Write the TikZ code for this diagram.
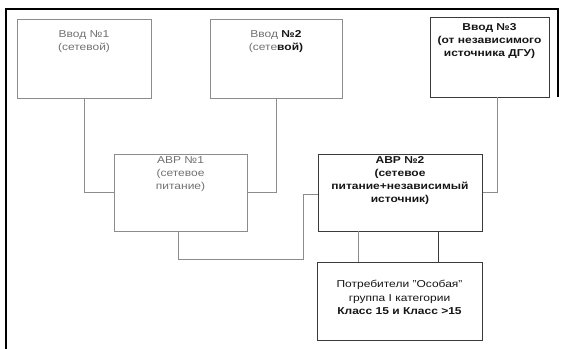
\documentclass[tikz,border=0pt]{standalone}
\usepackage{fontspec}
\setmainfont{Liberation Sans}[FakeStretch=1.2]
\usetikzlibrary{calc}
\definecolor{boxgray}{HTML}{8C8C8C}
\definecolor{boxdark}{HTML}{3A3A3A}
\definecolor{txtgray}{HTML}{707070}
\definecolor{txtdark}{HTML}{151515}
\begin{document}
\begin{tikzpicture}[x=1pt,y=-1pt,
  box/.style={draw=#1, line width=1pt, rectangle, inner sep=0pt},
  txt/.style={anchor=north, align=center, inner sep=0pt,
    font=\fontsize{10}{12.8}\selectfont, text=#1},
  wire/.style={draw=boxgray, line width=0.9pt},
  frame/.style={draw=black, line width=1.6pt}]
\useasboundingbox (0,0) rectangle (561,348);
% outer frame
\coordinate (fbl) at (6,349);
\coordinate (ftl) at (6,9);
\coordinate (ftr) at (558,9);
\coordinate (fbr) at (558,97);
\draw[frame] (fbl) -- (ftl) -- (ftr) -- (fbr);
% boxes
\node[box=boxgray, minimum width=134pt, minimum height=79pt] (b1) at (84,58.5) {};
\node[box=boxgray, minimum width=132pt, minimum height=79pt] (b2) at (276,58.5) {};
\node[box=boxdark, minimum width=119pt, minimum height=80pt] (b3) at (489.5,57) {};
\node[box=boxgray, minimum width=133pt, minimum height=77pt] (a1) at (180.5,192.5) {};
\node[box=boxdark, minimum width=164pt, minimum height=77pt] (a2) at (400,192.5) {};
\node[box=boxdark, minimum width=165pt, minimum height=78pt] (c) at (399.5,301) {};
% texts
\node[txt=txtgray] (t1) at ($(b1.north)+(0,12)$) {Ввод №1\\(сетевой)};
\node[txt=txtgray] (t2) at ($(b2.north)+(0,12)$) {Ввод \textcolor{txtdark}{\bfseries №2}\\(сете\textcolor{txtdark}{\bfseries вой)}};
\node[txt=txtdark, font=\fontsize{10}{12.8}\selectfont\bfseries] (t3) at ($(b3.north)+(0,7)$) {Ввод №3\\(от независимого\\источника ДГУ)};
\node[txt=txtgray] (ta1) at ($(a1.north)+(0,3)$) {АВР №1\\(сетевое\\питание)};
\node[txt=txtdark, font=\fontsize{10}{12.8}\selectfont\bfseries] (ta2) at ($(a2.north)+(0,3)$) {АВР №2\\(сетевое\\питание+независимый\\источник)};
\node[txt=txtdark, font=\fontsize{10}{13.5}\selectfont] (tc) at ($(c.north)+(0,18.5)$) {Потребители "Особая"\\группа I категории\\\textbf{Класс 15 и Класс >15}};
% connectors
\coordinate (b3s) at (497,97);
\draw[wire] (b1.south) |- (a1.west);
\draw[wire] (b2.south) |- (a1.east);
\draw[wire] (b3s) |- (a2.east);
\coordinate (a1s) at (178,231);
\coordinate (j1) at (178,259);
\coordinate (j2) at (303,259);
\coordinate (j3) at (303,194);
\draw[wire] (a1s) -- (j1) -- (j2) -- (j3) -- (j3 -| a2.west);
\coordinate (a2l) at (358,231);
\coordinate (a2r) at (438,231);
\draw[wire] (a2l) -- (a2l |- c.north);
\draw[wire, draw=boxdark] (a2r) -- (a2r |- c.north);
\end{tikzpicture}
\end{document}
